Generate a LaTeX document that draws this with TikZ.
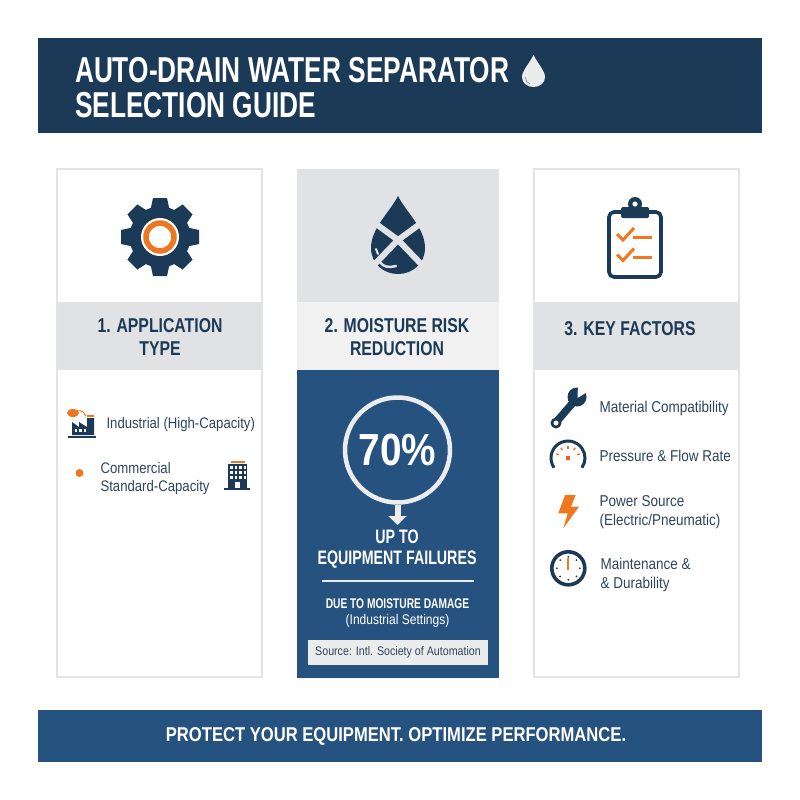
\documentclass[tikz,border=0pt]{standalone}
\usepackage{fontspec}
\setmainfont{Liberation Sans}[FakeStretch=0.86]
\newfontfamily\narrowface{Liberation Sans}[FakeStretch=0.73]
\newfontfamily\headface{Liberation Sans}[FakeStretch=0.79]
\newfontfamily\sloganface{Liberation Sans}[FakeStretch=0.83]
\usetikzlibrary{arrows.meta}
\definecolor{navy}{HTML}{1B3A57}
\definecolor{midblue}{HTML}{26527F}
\definecolor{accent}{HTML}{EE7722}
\definecolor{bandgrey}{HTML}{E1E2E3}
\definecolor{paleband}{HTML}{F1F1F1}
\definecolor{edgegrey}{HTML}{E2E3E3}
\definecolor{softwhite}{HTML}{ECECEC}
\definecolor{itemink}{HTML}{2C4560}
\tikzset{
    titletext/.style={anchor=west,align=left,text=white,font=\narrowface\fontsize{36}{35.5}\selectfont\bfseries},
    headtext/.style={align=center,text=navy,font=\headface\fontsize{20}{23}\selectfont\bfseries},
    itemtext/.style={anchor=west,align=left,text=itemink,font=\fontsize{15.3}{18.5}\selectfont},
    factortext/.style={itemtext,font=\fontsize{15.7}{19}\selectfont},
    whitetext/.style={align=center,text=white},
    cardline/.style={draw=edgegrey,line width=2pt},
    icontick/.style={accent,line width=1.4pt}
}
\begin{document}
\begin{tikzpicture}[x=1pt,y=-1pt]
    \useasboundingbox (0,0) rectangle (800,800);
    \fill[white] (0,0) rectangle (800,800);

    % banner
    \fill[navy] (38,38) rectangle (762,133);
    \node[titletext] (title) at (71.5,87.5) {AUTO-DRAIN WATER SEPARATOR\\SELECTION GUIDE};
    \fill[softwhite] (533.5,55) .. controls (529,64) and (522,71) .. (522,77) .. controls (522,83) and (527,87) .. (533.5,87) .. controls (540,87) and (545,83) .. (545,77) .. controls (545,71) and (538,64) .. (533.5,55);
    \draw[navy!55,line width=0.7pt] (525.5,77) .. controls (525.5,81) and (527.5,83) .. (530,84);

    % left card
    \draw[cardline] (57,169) rectangle (262,677);
    \fill[bandgrey] (58,302) rectangle (261,370);
    \fill[navy] (160,237) circle (30.5);
    \foreach \a in {0,45,...,315} {
        \fill[navy,rotate around={\a:(160,237)}] (153,198) -- (167,198) -- (170,212) -- (150,212) -- cycle;
    }
    \fill[white] (160,237) circle (19);
    \draw[accent,line width=5.5pt] (160,237) circle (14);
    \node[headtext] (apphead) at (160,337) {1. APPLICATION\\TYPE};

    % factory
    \fill[accent] (73,413) ellipse (6 and 4);
    \draw[accent,line width=1pt] (77,411) .. controls (82,410) and (84,412) .. (86,416);
    \fill[navy] (72,435) -- (72,422) -- (79,427) -- (79,422) -- (87,427) -- (87,418) -- (94,418) -- (94,435) -- cycle;
    \fill[accent] (87,414.5) rectangle (94,417);
    \foreach \x in {74.5,79,83.5} {
        \fill[white] (\x,429) rectangle (\x+2.5,431.5);
    }
    \draw[navy,line width=1.5pt] (68,437) -- (96,437);
    \node[itemtext] (industrial) at (103,425) {Industrial (High-Capacity)};

    \fill[accent] (79.5,473) circle (4);
    \node[itemtext] (commercial) at (97,478.5) {Commercial\\Standard-Capacity};

    % office block
    \fill[navy] (228,464) rectangle (247,488);
    \fill[accent] (231,461) rectangle (245,462.5);
    \foreach \x in {230,234.5,239,243.5} {
        \foreach \y in {466,471,476} {
            \fill[white] (\x,\y) rectangle (\x+2.6,\y+3);
        }
    }
    \fill[white] (235,482) rectangle (240,488);
    \draw[navy,line width=1.5pt] (224,489) -- (250,489);

    % middle card
    \fill[bandgrey] (297,169) rectangle (499,302);
    \fill[paleband] (297,302) rectangle (499,370);
    \fill[midblue] (297,370) rectangle (499,678);
    \fill[navy] (398,196) .. controls (390,212) and (371,228) .. (371,248) .. controls (371,264) and (384,274) .. (398,274) .. controls (412,274) and (425,264) .. (425,248) .. controls (425,228) and (406,212) .. (398,196);
    \draw[bandgrey,line width=6pt] (372,221) -- (398,240) -- (424,267);
    \draw[bandgrey,line width=6pt] (424,221) -- (398,240) -- (372,267);
    \draw[bandgrey,line width=2.5pt,line cap=round] (380,262) .. controls (383,267) and (389,268) .. (396,266);
    \draw[bandgrey,line width=2pt,line cap=round] (376,249) -- (378,254);
    \node[headtext] (riskhead) at (397,337) {2. MOISTURE RISK\\REDUCTION};

    \node[draw=softwhite,line width=4.5pt,circle,minimum size=105pt,inner sep=0pt,text=white,font=\fontsize{45}{45}\selectfont\bfseries] (pct) at (397.5,450) {70\%};
    \coordinate (pcttip) at (397.5,525);
    \draw[softwhite,line width=6pt,-{Triangle[length=9pt,width=18pt]}] (pct.south) -- (pcttip);
    \node[whitetext,font=\narrowface\fontsize{19.5}{21}\selectfont\bfseries] (failures) at (397,549) {UP TO\\EQUIPMENT FAILURES};
    \coordinate (ruleleft) at (322,581);
    \coordinate (ruleright) at (474,581);
    \draw[softwhite,line width=2pt] (ruleleft) -- (ruleright);
    \node[whitetext,font=\fontsize{14}{16}\selectfont] (damage) at (397.5,613.5) {{\narrowface\bfseries DUE TO MOISTURE DAMAGE}\\(Industrial Settings)};
    \node[fill=softwhite,minimum width=180pt,minimum height=25pt,inner sep=0pt,text=itemink,font=\fontsize{12.4}{15}\selectfont] (source) at (398,652.5) {Source: Intl. Society of Automation};

    % right card
    \draw[cardline] (534,169) rectangle (739,677);
    \fill[bandgrey] (535,302) rectangle (738,370);
    \draw[navy,line width=3.6pt,rounded corners=5pt] (621,212) -- (609,212) -- (609,277) -- (661,277) -- (661,212) -- (649,212);
    \fill[navy] (635,204) circle (7);
    \fill[navy,rounded corners=1.5pt] (621,207) rectangle (649,218);
    \fill[white] (635,204) circle (2.6);
    \foreach \y in {0,20.5} {
        \draw[accent,line width=3pt] (617,234+\y) -- (623,240+\y) -- (634,228+\y);
        \draw[accent,line width=3pt] (633,237+\y) -- (652,237+\y);
    }
    \node[headtext] (keyhead) at (630,329) {3. KEY FACTORS};

    % wrench
    \draw[navy,line width=7.5pt] (577,398) -- (558,420);
    \fill[navy] (577,397) circle (9.5);
    \fill[navy] (556,423) circle (5.5);
    \fill[white] (556,423) circle (2.5);
    \fill[white] (577.5,398) -- (578,384) -- (592,389) -- cycle;
    \node[factortext] (material) at (596,408) {Material Compatibility};

    % gauge
    \draw[navy,line width=3pt,shift={(568,458)}] (-215:17) arc (-215:35:17);
    \foreach \a in {-160,-125,-90,-55,-20} {
        \draw[icontick,shift={(568,458)}] (\a:9.5) -- (\a:12.5);
    }
    \fill[accent!80!red] (566,455.5) rectangle (570,460);
    \node[factortext] (pressure) at (596,456) {Pressure \& Flow Rate};

    % bolt
    \fill[accent] (565,495) -- (575.7,495) -- (571,506.7) -- (579,506.7) -- (563.3,528.3) -- (567.7,513.3) -- (558.3,513.3) -- cycle;
    \node[factortext] (power) at (596,512.5) {Power Source\\(Electric/Pneumatic)};

    % dial
    \draw[navy,line width=3.6pt] (568.3,568.3) circle (16.5);
    \foreach \a in {0,45,...,315} {
        \fill[navy,shift={(568.3,568.3)}] (\a:11.5) circle (1);
    }
    \draw[accent,line width=2pt] (568.3,558) -- (568.3,570);
    \node[factortext] (upkeep) at (597,574.5) {Maintenance \&\\\& Durability};

    % footer
    \fill[midblue] (38,710) rectangle (762,762);
    \node[whitetext,font=\sloganface\fontsize{20}{22}\selectfont\bfseries] (slogan) at (396,736) {PROTECT YOUR EQUIPMENT. OPTIMIZE PERFORMANCE.};
\end{tikzpicture}
\end{document}
